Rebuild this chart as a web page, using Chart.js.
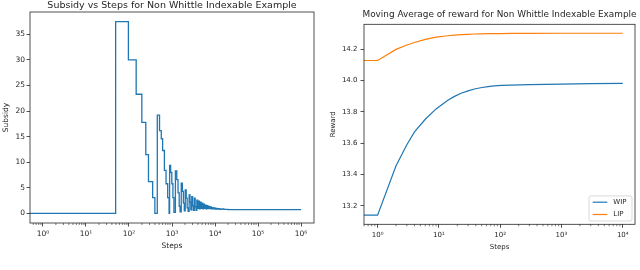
<!DOCTYPE html>
<html>
<head>
<meta charset="utf-8">
<script src="https://cdn.jsdelivr.net/npm/chart.js@4.4.1/dist/chart.umd.min.js"></script>
<style>
  html, body { margin: 0; padding: 0; background: #fff; }
  #wrap { display: flex; width: 640px; height: 270px; }
  canvas { display: block; }
</style>
</head>
<body>
<div id="wrap">
  <canvas id="subsidyChart" width="320" height="270"></canvas>
  <canvas id="rewardChart" width="320" height="270"></canvas>
</div>
<script>
// ---- left panel: subsidy per step (value holds until the next listed step)
const subsidySteps = [0, 49, 97, 147, 199, 246, 284, 355, 400, 455, 513, 563, 605, 666, 727, 794, 855,
  880, 930, 990, 1050, 1110, 1200, 1290, 1380, 1470, 1540, 1640, 1740, 1840, 1930, 2030, 2140, 2250, 2360,
  2500, 2620, 2740, 2880, 3010, 3150, 3300, 3450, 3610, 3780, 3950, 4130, 4320, 4520, 4730, 4950, 5180,
  5420, 5670, 5930, 6200, 6500, 6800, 7100, 7450, 7800, 8200, 8600, 9000, 9500, 10000, 10600, 11300,
  12000, 13000, 14500, 16000, 18000, 20000, 1000000];
const subsidy = [0, 37.5, 30.0, 23.3, 17.8, 11.5, 6.2, 3.1, 0, 19.2, 16.2, 14.6, 12.3, 8.4, 5.8, 3.1, 0,
  9.4, 8.0, 5.8, 3.1, 0.2, 8.3, 6.6, 4.0, 1.4, 0.3, 5.9, 4.3, 2.0, 0.5, 4.6, 3.0, 1.1, 0.4,
  3.6, 2.2, 0.7, 3.3, 1.5, 0.6, 3.0, 1.3, 0.6, 2.6, 1.0, 2.4, 0.9, 2.2, 1.0, 2.0, 0.9,
  1.8, 1.0, 1.6, 0.9, 1.5, 0.95, 1.35, 0.95, 1.25, 0.9, 1.15, 0.9, 1.1, 0.85, 1.0, 0.82,
  0.95, 0.8, 0.88, 0.78, 0.8, 0.75, 0.75];
const subsidyXTicks = [1, 10, 100, 1e3, 1e4, 1e5, 1e6];
const subsidyXLabels = ["10\u2070", "10\u00b9", "10\u00b2", "10\u00b3", "10\u2074", "10\u2075", "10\u2076"];
const subsidyYTicks = [0, 5, 10, 15, 20, 25, 30, 35];

// ---- right panel: moving average of reward
const rewardSteps = [0, 1, 2, 3, 4, 6, 9, 14, 18, 23, 30, 38, 48, 63, 80, 105, 150, 300, 1000, 3000, 10000];
const wip = [13.14, 13.14, 13.455, 13.59, 13.672, 13.752, 13.818, 13.874, 13.898, 13.918, 13.933, 13.945,
  13.953, 13.96, 13.965, 13.968, 13.970, 13.973, 13.976, 13.979, 13.981];
const lip = [14.127, 14.127, 14.198, 14.226, 14.242, 14.262, 14.276, 14.285, 14.289, 14.292, 14.294, 14.296,
  14.297, 14.298, 14.299, 14.299, 14.2995, 14.300, 14.301, 14.301, 14.301];
const rewardXTicks = [1, 10, 100, 1e3, 1e4];
const rewardXLabels = ["10\u2070", "10\u00b9", "10\u00b2", "10\u00b3", "10\u2074"];
const rewardYTicks = [13.2, 13.4, 13.6, 13.8, 14.0, 14.2];

const FONT = "'DejaVu Sans', sans-serif";
const INK = "#262626";
const BLUE = "#1f77b4";
const ORANGE = "#ff7f0e";

// log scale cannot show step 0, push it off the left edge like matplotlib clipping
const pts = (xs, ys) => xs.map((s, i) => ({ x: s > 0 ? s : 0.1, y: ys[i] }));

function minorTicks(scale) {
  const out = [];
  for (let e = Math.floor(Math.log10(scale.min)); e <= Math.ceil(Math.log10(scale.max)); e++) {
    for (let k = 2; k <= 9; k++) {
      const v = k * Math.pow(10, e);
      if (v >= scale.min && v <= scale.max) out.push(v);
    }
  }
  return out;
}

// matplotlib-like frame, minor ticks and a title centred over the axes
const frame = {
  id: "frame",
  afterDatasetsDraw(chart, args, opts) {
    const { ctx, chartArea: a } = chart;
    const xs = chart.scales.x;
    ctx.save();
    ctx.strokeStyle = INK;
    ctx.lineWidth = 0.8;
    ctx.strokeRect(a.left, a.top, a.right - a.left, a.bottom - a.top);
    ctx.beginPath();
    minorTicks(xs).forEach(v => {
      const px = xs.getPixelForValue(v);
      ctx.moveTo(px, a.bottom);
      ctx.lineTo(px, a.bottom + 2);
    });
    ctx.lineWidth = 0.6;
    ctx.stroke();
    ctx.fillStyle = INK;
    ctx.font = opts.size + "px " + FONT;
    ctx.textAlign = "center";
    ctx.textBaseline = "middle";
    ctx.fillText(opts.text, (a.left + a.right) / 2, opts.y);
    ctx.restore();
  }
};

const boxLegend = {
  id: "boxLegend",
  afterDatasetsDraw(chart) {
    const { ctx, chartArea: a } = chart;
    const items = chart.data.datasets;
    const w = 43, rowH = 12.3, h = items.length * rowH + 0.5;
    const x0 = a.right - 3 - w, y0 = a.bottom - 3.3 - h;
    ctx.save();
    ctx.fillStyle = "rgba(255,255,255,0.8)";
    ctx.strokeStyle = "#cfcfcf";
    ctx.lineWidth = 0.8;
    ctx.beginPath();
    ctx.roundRect(x0, y0, w, h, 2);
    ctx.fill();
    ctx.stroke();
    items.forEach((d, i) => {
      const y = y0 + 6.3 + i * rowH;
      ctx.strokeStyle = d.borderColor;
      ctx.lineWidth = 1.2;
      ctx.beginPath();
      ctx.moveTo(x0 + 3.7, y);
      ctx.lineTo(x0 + 18.3, y);
      ctx.stroke();
      ctx.fillStyle = INK;
      ctx.font = "7px " + FONT;
      ctx.textAlign = "left";
      ctx.textBaseline = "middle";
      ctx.fillText(d.label, x0 + 24.3, y);
    });
    ctx.restore();
  }
};

function axisX(min, max, ticks, labels, height, fontSize, titlePad) {
  return {
    type: "logarithmic",
    min: min,
    max: max,
    afterFit: s => { s.height = height; },
    afterBuildTicks: s => { s.ticks = ticks.map(v => ({ value: v })); },
    ticks: {
      autoSkip: false, maxRotation: 0, padding: 3.5, color: INK,
      font: { family: FONT, size: fontSize },
      callback: (v, i) => labels[i]
    },
    grid: { drawOnChartArea: false, tickLength: 3.5, tickColor: INK, tickWidth: 0.8 },
    border: { display: false },
    title: { display: true, text: "Steps", color: INK, font: { family: FONT, size: fontSize }, padding: { top: 0, bottom: titlePad } }
  };
}

function axisY(min, max, ticks, fmt, width, fontSize, label, titlePad, tickPad) {
  return {
    min: min,
    max: max,
    afterFit: s => { s.width = width; },
    afterBuildTicks: s => { s.ticks = ticks.map(v => ({ value: v })); },
    ticks: { autoSkip: false, padding: tickPad, color: INK, font: { family: FONT, size: fontSize }, callback: fmt },
    grid: { drawOnChartArea: false, tickLength: 3.5, tickColor: INK, tickWidth: 0.8 },
    border: { display: false },
    title: { display: true, text: label, color: INK, font: { family: FONT, size: fontSize }, padding: { top: titlePad, bottom: 0 } }
  };
}

new Chart(document.getElementById("subsidyChart"), {
  type: "line",
  data: {
    datasets: [{
      label: "Subsidy",
      data: pts(subsidySteps, subsidy),
      borderColor: BLUE,
      borderWidth: 1.3,
      pointRadius: 0,
      stepped: true,
      fill: false
    }]
  },
  options: {
    responsive: false,
    animation: false,
    devicePixelRatio: 1,
    layout: { padding: { top: 12, right: 6, bottom: 18, left: 0 } },
    plugins: {
      legend: { display: false },
      tooltip: { enabled: false },
      frame: { text: "Subsidy vs Steps for Non Whittle Indexable Example", size: 9.5, y: 5.5 }
    },
    scales: {
      x: axisX(Math.pow(10, -0.3), Math.pow(10, 6.3), subsidyXTicks, subsidyXLabels, 29, 7.5, 1.5),
      y: axisY(-1.875, 39.375, subsidyYTicks, v => String(v), 30, 7.5, "Subsidy", 1.5, 1.5)
    }
  },
  plugins: [frame]
});

new Chart(document.getElementById("rewardChart"), {
  type: "line",
  data: {
    datasets: [
      { label: "WIP", data: pts(rewardSteps, wip), borderColor: BLUE, borderWidth: 1.2, pointRadius: 0, tension: 0, fill: false },
      { label: "LIP", data: pts(rewardSteps, lip), borderColor: ORANGE, borderWidth: 1.2, pointRadius: 0, tension: 0, fill: false }
    ]
  },
  options: {
    responsive: false,
    animation: false,
    devicePixelRatio: 1,
    layout: { padding: { top: 24.3, right: 5, bottom: 18, left: 0 } },
    plugins: {
      legend: { display: false },
      tooltip: { enabled: false },
      frame: { text: "Moving Average of reward for Non Whittle Indexable Example", size: 8.9, y: 15 }
    },
    scales: {
      x: axisX(Math.pow(10, -0.2), Math.pow(10, 4.2), rewardXTicks, rewardXLabels, 27.7, 7, 1.1),
      y: axisY(13.082, 14.358, rewardYTicks, v => v.toFixed(1), 44, 7, "Reward", 8.8, 3)
    }
  },
  plugins: [frame, boxLegend]
});
</script>
</body>
</html>
